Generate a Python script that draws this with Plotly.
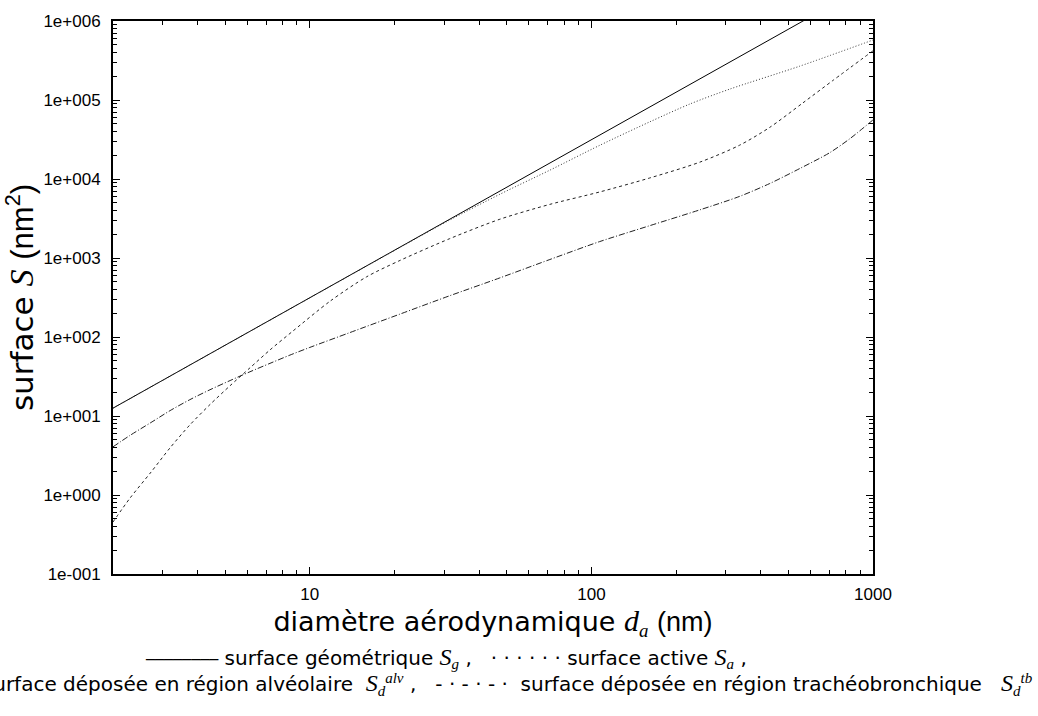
import plotly.graph_objects as go

# ---- data ----
# geometric surface S_g
d_geo = [2, 5, 10, 20, 50, 100, 200, 564, 1000]
s_geo = [12.57, 78.5, 314, 1257, 7854, 31416, 125664, 1.0e6, 3.14e6]

# active surface S_a
d_act = [2, 5, 10, 20.9, 31.4, 47.3, 71.2, 107, 161, 224, 310, 549, 1000]
s_act = [12.57, 78.5, 313, 1361, 3027, 6412, 12940, 26670, 52800, 89130, 137400, 267900, 575000]

# alveolar deposited surface S_d^alv
d_alv = [2.00, 2.30, 2.73, 3.19, 3.75, 4.42, 5.21, 6.13, 7.22, 8.71, 11.8, 15.9, 20.9,
         31.4, 47.3, 71.2, 107, 161, 243, 336, 430, 563, 719, 1000]
s_alv = [0.455, 0.916, 1.95, 3.96, 7.71, 13.96, 24.2, 40.7, 68.6, 119, 284, 577, 931,
         1758, 3097, 4775, 6855, 10300, 16370, 26790, 45080, 91620, 175800, 419700]

# tracheobronchial deposited surface S_d^tb
d_tb = [2.00, 2.30, 2.73, 3.19, 3.75, 4.42, 5.21, 6.13, 7.22, 8.50, 10.0, 13.9, 20.9,
        31.4, 47.3, 71.2, 107, 161, 243, 336, 430, 549, 702, 827, 1000]
s_tb = [4.07, 5.69, 8.28, 11.7, 16.1, 21.5, 28.1, 36.3, 46.4, 59.0, 73.8, 114, 195,
        333, 560, 957, 1614, 2564, 4074, 6026, 8770, 13550, 21530, 32300, 55980]

y_tickvals = [1e-1, 1e0, 1e1, 1e2, 1e3, 1e4, 1e5, 1e6]
y_ticktext = ["1e-001", "1e+000", "1e+001", "1e+002", "1e+003", "1e+004", "1e+005", "1e+006"]
x_tickvals = [10, 100, 1000]
x_ticktext = ["10", "100", "1000"]

# ---- figure ----
fig = go.Figure()
common = dict(mode="lines", showlegend=False, hoverinfo="skip")
fig.add_trace(go.Scatter(x=d_geo, y=s_geo, line=dict(color="black", width=1), **common))
fig.add_trace(go.Scatter(x=d_act, y=s_act, line=dict(color="#333", width=1, dash="1px,2px",
                                                     shape="spline", smoothing=0.8), **common))
fig.add_trace(go.Scatter(x=d_alv, y=s_alv, line=dict(color="#222", width=1, dash="3px,3px",
                                                     shape="spline", smoothing=0.8), **common))
fig.add_trace(go.Scatter(x=d_tb, y=s_tb, line=dict(color="#222", width=1, dash="6px,2px,1px,2px",
                                                   shape="spline", smoothing=0.8), **common))

x_minor = [m * 10 ** k for k in range(0, 3) for m in range(2, 10) if 2 <= m * 10 ** k <= 1000]
y_minor = [m * 10.0 ** k for k in range(-1, 6) for m in range(2, 10)]

tickfont = dict(family="Liberation Sans, Arial, sans-serif", size=17, color="black")
txt_font = "DejaVu Sans, sans-serif"
arial = "<span style='font-family:Liberation Sans'>{}</span>"


def math(s, size=None):
    sz = f"font-size:{size}px;" if size else ""
    return f"<span style='font-family:Liberation Serif;{sz}'><i>{s}</i></span>"


fig.update_xaxes(
    type="log", range=[0.30103, 3.0],
    tickmode="array", tickvals=x_tickvals, ticktext=x_ticktext,
    ticks="inside", ticklen=7, tickwidth=1, tickcolor="black",
    showline=True, linewidth=2, linecolor="black", mirror="ticks",
    showgrid=False, zeroline=False, tickfont=tickfont, ticklabelstandoff=4,
    minor=dict(tickmode="array", tickvals=x_minor, ticks="inside", ticklen=4,
               tickwidth=1, tickcolor="black", showgrid=False),
    title=dict(text="diamètre aérodynamique " + math("d", 30) + "<sub>" + math("a") + "</sub> "
               + arial.format("(nm)"),
               font=dict(family=txt_font, size=27, color="black"), standoff=9),
)
fig.update_yaxes(
    type="log", range=[-1, 6],
    tickmode="array", tickvals=y_tickvals, ticktext=y_ticktext,
    ticks="inside", ticklen=7, tickwidth=1, tickcolor="black",
    showline=True, linewidth=2, linecolor="black", mirror="ticks",
    showgrid=False, zeroline=False, tickfont=tickfont, ticklabelstandoff=7,
    minor=dict(tickmode="array", tickvals=y_minor, ticks="inside", ticklen=4,
               tickwidth=1, tickcolor="black", showgrid=False),
    title=dict(text="surface " + math("S", 34) + " " + arial.format("(nm<sup>2</sup>)"),
               font=dict(family=txt_font, size=31, color="black"), standoff=2),
)

NB = "\u00a0"
leg_font = dict(family=txt_font, size=20, color="black")
S_sub = lambda sub: math("S", 24) + "<sub>" + math(sub, 15) + "</sub>"
S_subsup = lambda sub, sup: (math("S", 24) + "<sub>" + math(sub, 15) + "</sub>"
                             + "<sup>" + math(sup, 15) + "</sup>")

line1 = ("<span style='font-size:15px'>────────</span> surface géométrique " + S_sub("g") + NB + ","
         + NB * 3 + "· · · · · ·" + NB + "surface active " + S_sub("a") + NB + ",")
line2 = ("- - - - - -" + NB * 2 + "surface déposée en région alvéolaire" + NB * 2 + S_subsup("d", "alv") + NB + ","
         + NB * 3 + "-" + NB + "·" + NB + "-" + NB + "·" + NB + "-" + NB + "·" + NB * 2
         + "surface déposée en région trachéobronchique" + NB * 3 + S_subsup("d", "tb"))
fig.add_annotation(text=line1, xref="paper", yref="paper", x=(143 - 113) / 760, y=-0.151,
                   xanchor="left", yanchor="middle", showarrow=False, font=leg_font)
fig.add_annotation(text=line2, xref="paper", yref="paper", x=(1035 - 113) / 760, y=-0.199,
                   xanchor="right", yanchor="middle", showarrow=False, font=leg_font)

fig.update_layout(
    width=1038, height=716,
    margin=dict(l=113, r=165, t=17, b=142),
    paper_bgcolor="white", plot_bgcolor="white",
)
fig.write_html("out.html")
